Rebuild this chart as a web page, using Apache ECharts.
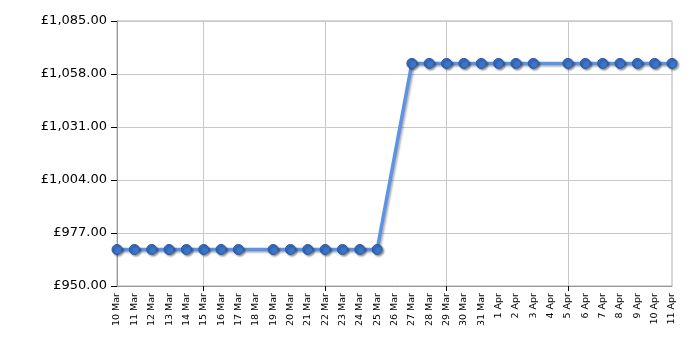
<!DOCTYPE html>
<html>
<head>
<meta charset="utf-8">
<script src="https://cdn.jsdelivr.net/npm/echarts@6/dist/echarts.min.js"></script>
<style>html,body{margin:0;padding:0;background:#fff}#c{width:700px;height:350px}</style>
</head>
<body>
<div id="c"></div>
<script>
const categories = ['10 Mar','11 Mar','12 Mar','13 Mar','14 Mar','15 Mar','16 Mar','17 Mar','18 Mar','19 Mar','20 Mar','21 Mar','22 Mar','23 Mar','24 Mar','25 Mar','26 Mar','27 Mar','28 Mar','29 Mar','30 Mar','31 Mar','1 Apr','2 Apr','3 Apr','4 Apr','5 Apr','6 Apr','7 Apr','8 Apr','9 Apr','10 Apr','11 Apr'];
const prices = [968.6,968.6,968.6,968.6,968.6,968.6,968.6,968.6,null,968.6,968.6,968.6,968.6,968.6,968.6,968.6,null,1063.4,1063.4,1063.4,1063.4,1063.4,1063.4,1063.4,1063.4,null,1063.4,1063.4,1063.4,1063.4,1063.4,1063.4,1063.4];
const weekTickLabels = ['15 Mar','22 Mar','29 Mar','5 Apr'];
const yMin = 950, yMax = 1085, yStep = 27;

const fmt = v => '£' + v.toLocaleString('en-GB', {minimumFractionDigits: 2, maximumFractionDigits: 2});
const chart = echarts.init(document.getElementById('c'));
chart.setOption({
  animation: false,
  grid: {left: 117, right: 28, top: 21, bottom: 64, show: true, borderColor: '#b0b0b0', borderWidth: 1},
  xAxis: {
    type: 'category', data: categories, boundaryGap: false,
    axisLine: {lineStyle: {color: '#999', width: 1}},
    axisTick: {show: true, length: 5, lineStyle: {color: '#000'}, interval: (i, v) => weekTickLabels.includes(v)},
    splitLine: {show: true, lineStyle: {color: '#c8c8c8'}, interval: (i, v) => weekTickLabels.includes(v)},
    axisLabel: {interval: 0, rotate: 90, fontFamily: 'DejaVu Sans', fontSize: 9.5, color: '#000', margin: 7}
  },
  yAxis: {
    type: 'value', min: yMin, max: yMax, interval: yStep,
    axisLine: {show: true, lineStyle: {color: '#999'}},
    axisTick: {show: true, length: 6, lineStyle: {color: '#000'}},
    splitLine: {lineStyle: {color: '#c8c8c8'}},
    axisLabel: {formatter: fmt, fontFamily: 'DejaVu Sans', fontSize: 13, color: '#000', margin: 10}
  },
  series: [{
    type: 'line', data: prices, connectNulls: true,
    symbol: 'circle', symbolSize: 10,
    lineStyle: {color: '#5b93e6', width: 3.5, shadowColor: 'rgba(0,0,0,0.3)', shadowBlur: 2, shadowOffsetX: 1.5, shadowOffsetY: 1.5},
    itemStyle: {color: '#3b74cc', borderColor: '#2b56a0', borderWidth: 1, shadowColor: 'rgba(0,0,0,0.4)', shadowBlur: 2, shadowOffsetX: 1.5, shadowOffsetY: 1.5}
  }]
});
</script>
</body>
</html>
